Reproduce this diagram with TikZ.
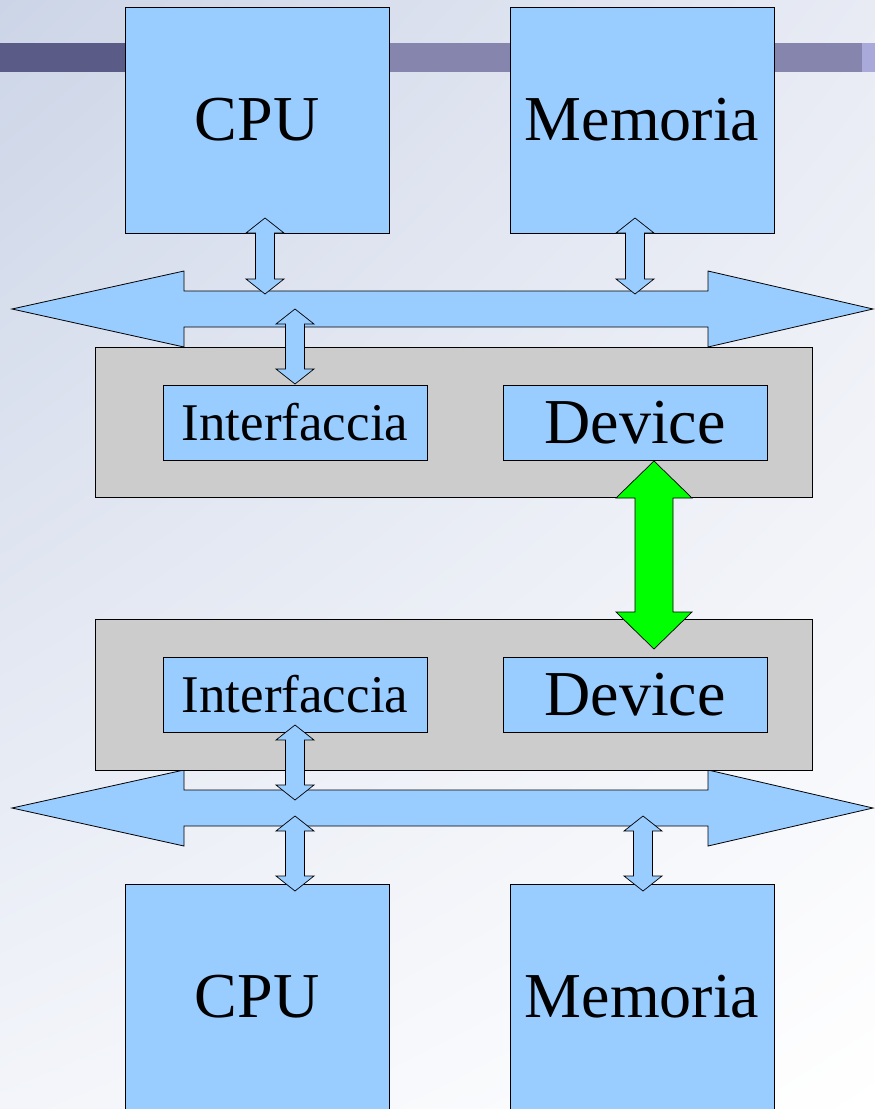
\documentclass[tikz,border=0pt]{standalone}
\usepackage{fontspec}
\setmainfont{Liberation Serif}
\usepackage{xcolor}
\usepackage{tikz}
\usetikzlibrary{shadings}

\definecolor{boxblue}{HTML}{99CCFF}
\definecolor{cardgray}{HTML}{CCCCCC}
\definecolor{linkgreen}{HTML}{00FF00}
\definecolor{bardark}{HTML}{5B5B88}
\definecolor{barmid}{HTML}{8585AD}
\definecolor{barlight}{HTML}{AAAADA}
\definecolor{bgtl}{HTML}{CCD5E7}
\definecolor{bgtr}{HTML}{E8EBF4}
\definecolor{bgbl}{HTML}{F3F5FA}

\begin{document}
\begin{tikzpicture}[x=1pt, y=-1pt,
    unit/.style={draw=black, fill=boxblue, line width=0.8pt, minimum width=264, minimum height=226, inner sep=0pt, font=\fontsize{64}{64}\selectfont},
    port/.style={draw=black, fill=boxblue, line width=0.8pt, minimum width=264, minimum height=75, inner sep=0pt},
    card/.style={draw=black, fill=cardgray, line width=0.8pt, minimum width=717, inner sep=0pt},
    bus/.style={draw=black, fill=boxblue, line width=0.8pt},
    link/.style={draw=black, fill=boxblue, line width=0.7pt}]

        % Background and title bar
        \useasboundingbox (0,0) rectangle (875,1109);
        \shade[upper left=bgtl, upper right=bgtr, lower left=bgbl, lower right=white] (0,0) rectangle (875,1109);
        \fill[bardark] (0,43) rectangle (250,72);
        \fill[barmid] (250,43) rectangle (862,72);
        \fill[barlight] (862,43) rectangle (875,72);

        % Processors and memories of the two machines
        \node[unit] (cpu-1) at (257,120) {CPU};
        \node[unit] (mem-1) at (642,120) {Memoria};
        \node[unit] (cpu-2) at (257,997) {CPU};
        \node[unit] (mem-2) at (642,997) {Memoria};

        % Draw the two system buses
        \foreach \yc in {309, 808}{
            \draw[bus] (12,\yc) -- (184,{\yc-38}) -- (184,{\yc-18}) -- (708,{\yc-18}) -- (708,{\yc-38})
                       -- (873,\yc) -- (708,{\yc+38}) -- (708,{\yc+18}) -- (184,{\yc+18}) -- (184,{\yc+38}) -- cycle;
        }

        % Interface cards with interface and device
        \node[card, minimum height=150] (card-1) at (453.5,422) {};
        \node[card, minimum height=151] (card-2) at (453.5,694.5) {};
        \foreach[count=\i] \y in {422.5, 694.5}{
            \node[port, font=\fontsize{53}{53}\selectfont] (iface-\i) at (295,\y) {Interfaccia};
            \node[port, font=\fontsize{64}{64}\selectfont] (dev-\i) at (635,\y) {Device};
        }

        % Small double arrows (x / top tip / bottom tip)
        \foreach \x/\ya/\yb in {265/218/294, 635/218/294, 295/309/384, 295/725/800, 295/816/891, 643/816/891}{
            \draw[link] (\x,\ya) -- ({\x+19},{\ya+15}) -- ({\x+9.5},{\ya+15}) -- ({\x+9.5},{\yb-15}) -- ({\x+19},{\yb-15})
                        -- (\x,\yb) -- ({\x-19},{\yb-15}) -- ({\x-9.5},{\yb-15}) -- ({\x-9.5},{\ya+15}) -- ({\x-19},{\ya+15}) -- cycle;
        }

        % Device to device link
        \draw[link, fill=linkgreen] (654,461) -- (692,498) -- (673,498) -- (673,612) -- (692,612) -- (654,649)
                                    -- (616,612) -- (635,612) -- (635,498) -- (616,498) -- cycle;
    \end{tikzpicture}
\end{document}
